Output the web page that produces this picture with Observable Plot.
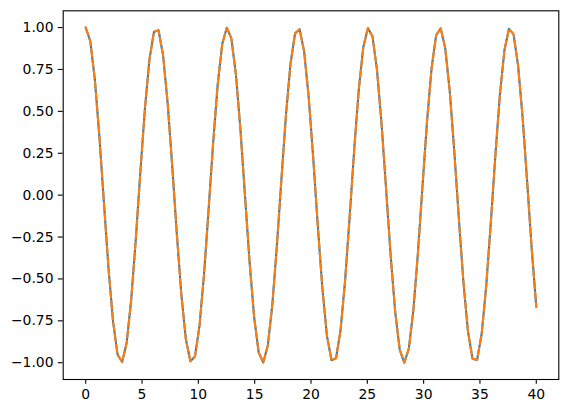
<!DOCTYPE html>
<html>
<head>
<meta charset="utf-8">
<script src="https://cdn.jsdelivr.net/npm/d3@7"></script>
<script src="https://cdn.jsdelivr.net/npm/@observablehq/plot@0.6"></script>
<style>
  html, body { margin: 0; padding: 0; background: #fff; }
  #chart { width: 568px; height: 413px; }
</style>
</head>
<body>
<div id="chart"></div>
<script>
const xs = [0, 0.404, 0.808, 1.212, 1.616, 2.020, 2.424, 2.828, 3.232, 3.636,
  4.040, 4.444, 4.848, 5.253, 5.657, 6.061, 6.465, 6.869, 7.273, 7.677,
  8.081, 8.485, 8.889, 9.293, 9.697, 10.101, 10.505, 10.909, 11.313, 11.717,
  12.121, 12.525, 12.929, 13.333, 13.737, 14.141, 14.545, 14.949, 15.354, 15.758,
  16.162, 16.566, 16.970, 17.374, 17.778, 18.182, 18.586, 18.990, 19.394, 19.798,
  20.202, 20.606, 21.010, 21.414, 21.818, 22.222, 22.626, 23.030, 23.434, 23.838,
  24.242, 24.646, 25.051, 25.455, 25.859, 26.263, 26.667, 27.071, 27.475, 27.879,
  28.283, 28.687, 29.091, 29.495, 29.899, 30.303, 30.707, 31.111, 31.515, 31.919,
  32.323, 32.727, 33.131, 33.535, 33.939, 34.343, 34.747, 35.152, 35.556, 35.960,
  36.364, 36.768, 37.172, 37.576, 37.980, 38.384, 38.788, 39.192, 39.596, 40];

const ys = [1.0000, 0.9195, 0.6909, 0.3511, -0.0453, -0.4345, -0.7535, -0.9513, -0.9959, -0.8801,
  -0.6225, -0.2648, 0.1357, 0.5142, 0.8100, 0.9753, 0.9836, 0.8334, 0.5491, 0.1763,
  -0.2249, -0.5898, -0.8598, -0.9913, -0.9632, -0.7799, -0.4711, -0.0864, 0.3122, 0.6606,
  0.9025, 0.9992, 0.9349, 0.7203, 0.3892, -0.0042, -0.3970, -0.7259, -0.9378, -0.9988,
  -0.8989, -0.6542, -0.3042, 0.0948, 0.4786, 0.7852, 0.9654, 0.9902, 0.8554, 0.5830,
  0.2166, -0.1846, -0.5561, -0.8381, -0.9851, -0.9734, -0.8050, -0.5070, -0.1273, 0.2729,
  0.6292, 0.8841, 0.9966, 0.9487, 0.7479, 0.4268, 0.0369, -0.3590, -0.6970, -0.9228,
  -1.0000, -0.9161, -0.6847, -0.3431, 0.0538, 0.4421, 0.7591, 0.9539, 0.9951, 0.8760,
  0.6159, 0.2566, -0.1441, -0.5215, -0.8150, -0.9772, -0.9820, -0.8287, -0.5420, -0.1679,
  0.2332, 0.5967, 0.8641, 0.9924, 0.9609, 0.7746, 0.4636, 0.0779, -0.3203, -0.6669];

const xTicks = [0, 5, 10, 15, 20, 25, 30, 35, 40];
const yTicks = [-1.00, -0.75, -0.50, -0.25, 0.00, 0.25, 0.50, 0.75, 1.00];

const data = xs.map((x, i) => ({x, y: ys[i]}));
const fmtY = d => d.toFixed(2).replace("-", "\u2212");

const chart = Plot.plot({
  width: 568,
  height: 413,
  marginLeft: 62.7,
  marginRight: 9.7,
  marginTop: 10.3,
  marginBottom: 34,
  style: {fontFamily: "'DejaVu Sans', sans-serif", fontSize: "13.9px", color: "#000", background: "#fff"},
  x: {domain: [-2, 42]},
  y: {domain: [-1.1, 1.1]},
  marks: [
    Plot.axisX({ticks: xTicks, tickFormat: d => String(d), tickSize: 4.86, tickPadding: 4.86, label: null, stroke: "#000", strokeWidth: 1.1, fill: "#000", fontSize: 13.9}),
    Plot.axisY({ticks: yTicks, tickFormat: fmtY, tickSize: 4.86, tickPadding: 4.86, label: null, stroke: "#000", strokeWidth: 1.1, fill: "#000", fontSize: 13.9}),
    Plot.line(data, {x: "x", y: "y", stroke: "#1f77b4", strokeWidth: 2.08}),
    Plot.line(data, {x: "x", y: "y", stroke: "#ff7f0e", strokeWidth: 2.08, strokeDasharray: "7.7,3.3"}),
    Plot.frame({stroke: "#000", strokeWidth: 1.1})
  ]
});
document.getElementById("chart").appendChild(chart);
</script>
</body>
</html>
